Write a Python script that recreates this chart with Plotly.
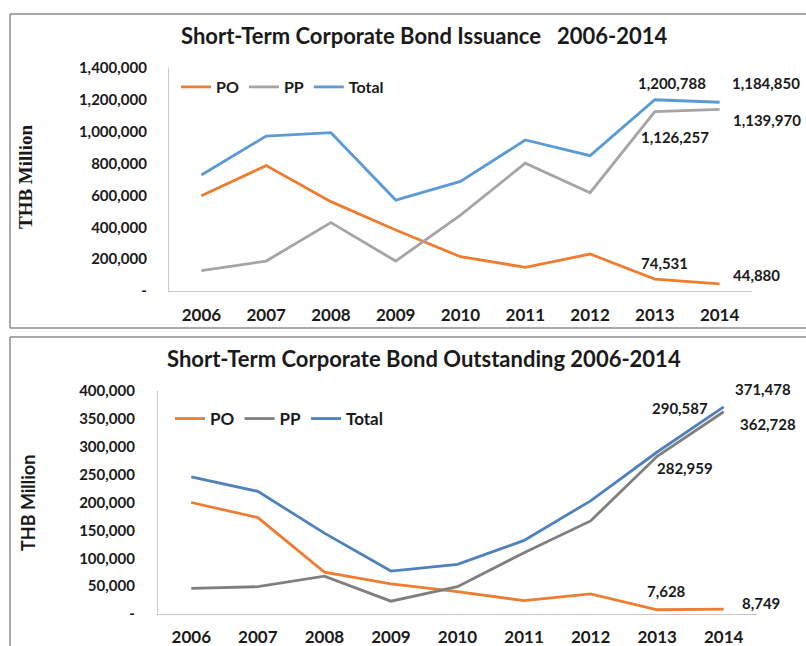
"""
Short-term corporate bond issuance / outstanding 2006-2014, two stacked line charts.
"""

import plotly.graph_objects as go

years = ["2006", "2007", "2008", "2009", "2010", "2011", "2012", "2013", "2014"]

# issuance, THB million
issue_po = [598000, 787000, 561000, 383000, 215000, 149000, 232000, 74531, 44880]
issue_pp = [128000, 188000, 429000, 188000, 477000, 802000, 617000, 1126257, 1139970]
issue_total = [728000, 973000, 994000, 571000, 688000, 948000, 850000, 1200788, 1184850]

# outstanding, THB million
out_po = [200000, 173000, 75000, 54000, 40000, 24000, 36000, 7628, 8749]
out_pp = [46000, 49000, 68000, 23000, 49000, 110000, 167000, 282959, 362728]
out_total = [246000, 220000, 145000, 77000, 89000, 132000, 203000, 290587, 371478]

issue_ticks = [0, 200000, 400000, 600000, 800000, 1000000, 1200000, 1400000]
issue_ticktext = ["-", "200,000", "400,000", "600,000", "800,000",
                  "1,000,000", "1,200,000", "1,400,000"]
out_ticks = [0, 50000, 100000, 150000, 200000, 250000, 300000, 350000, 400000]
out_ticktext = ["-", "50,000", "100,000", "150,000", "200,000",
                "250,000", "300,000", "350,000", "400,000"]

ORANGE = "#ED7D31"
SANS = "Lato"
INK = "#1a1a1a"
FRAME = "#8C8C8C"

W, H = 806, 646


def px(x):
    # page pixel (from left) -> paper x
    return x / W


def py(y):
    # page pixel (from top) -> paper y
    return 1 - y / H


fig = go.Figure()

top_series = [("PO", issue_po, ORANGE), ("PP", issue_pp, "#A5A5A5"),
              ("Total", issue_total, "#5B9BD5")]
for name, vals, col in top_series:
    fig.add_trace(go.Scatter(x=years, y=vals, name=name, mode="lines",
                             line=dict(color=col, width=2.8),
                             xaxis="x", yaxis="y", legend="legend"))

bottom_series = [("PO", out_po, ORANGE), ("PP", out_pp, "#7F7F7F"),
                 ("Total", out_total, "#4F81BD")]
for name, vals, col in bottom_series:
    fig.add_trace(go.Scatter(x=years, y=vals, name=name, mode="lines",
                             line=dict(color=col, width=2.8),
                             xaxis="x2", yaxis="y2", legend="legend2"))

xaxis_common = dict(type="category", showgrid=False, zeroline=False, showline=True,
                    linecolor="#C8C8C8", linewidth=1.3, ticks="", automargin=False,
                    range=[-0.5, 8.5],
                    tickfont=dict(family=SANS, size=17, color=INK, weight="bold"))
yaxis_common = dict(showgrid=False, zeroline=False, showline=True,
                    linecolor="#C8C8C8", linewidth=1.3, ticks="", automargin=False,
                    tickfont=dict(family=SANS, size=15, color=INK, weight="bold"))

fig.update_layout(
    width=W, height=H,
    margin=dict(l=0, r=0, t=0, b=0, autoexpand=False),
    paper_bgcolor="white", plot_bgcolor="white",
    showlegend=True,
    xaxis=dict(xaxis_common, domain=[px(169), px(752)], anchor="y",
               ticklabelstandoff=8),
    yaxis=dict(yaxis_common, domain=[py(291), py(68)], range=[0, 1400000],
               anchor="x", tickvals=issue_ticks, ticktext=issue_ticktext,
               ticklabelstandoff=18),
    xaxis2=dict(xaxis_common, domain=[px(158), px(757)], anchor="y2",
                ticklabelstandoff=7),
    yaxis2=dict(yaxis_common, domain=[py(614), py(391)], range=[0, 400000],
                anchor="x2", tickvals=out_ticks, ticktext=out_ticktext,
                ticklabelstandoff=19),
    legend=dict(orientation="h", x=px(176), y=py(70), xanchor="left", yanchor="top",
                font=dict(family=SANS, size=16, color=INK, weight="bold"),
                bgcolor="rgba(0,0,0,0)", itemwidth=30),
    legend2=dict(orientation="h", x=px(170), y=py(401), xanchor="left", yanchor="top",
                 font=dict(family=SANS, size=17, color=INK, weight="bold"),
                 bgcolor="rgba(0,0,0,0)", itemwidth=30),
)

# outer frames around each chart (right side runs off the page)
frame = dict(type="line", xref="paper", yref="paper",
             line=dict(color=FRAME, width=1.5))
fig.add_shape(frame, x0=px(10), x1=1, y0=py(14), y1=py(14))
fig.add_shape(frame, x0=px(10), x1=1, y0=py(328), y1=py(328))
fig.add_shape(frame, x0=px(10), x1=px(10), y0=py(14), y1=py(328))
fig.add_shape(frame, x0=px(10), x1=1, y0=py(337), y1=py(337))
fig.add_shape(frame, x0=px(10), x1=px(10), y0=py(337), y1=0)

# titles
title_font = dict(family=SANS, size=22, color=INK, weight="bold")
fig.add_annotation(text="Short-Term Corporate Bond Issuance\u00a0\u00a0 2006-2014",
                   xref="paper", yref="paper", x=px(424), y=py(36),
                   xanchor="center", yanchor="middle",
                   showarrow=False, font=title_font)
fig.add_annotation(text="Short-Term Corporate Bond Outstanding 2006-2014",
                   xref="paper", yref="paper", x=px(424), y=py(358),
                   xanchor="center", yanchor="middle",
                   showarrow=False, font=title_font)

# y axis titles
fig.add_annotation(text="THB Million", xref="paper", yref="paper",
                   x=px(25), y=py(177), textangle=-90, showarrow=False,
                   xanchor="center", yanchor="middle",
                   font=dict(family="Liberation Serif", size=19, color=INK, weight="bold"))
fig.add_annotation(text="THB Million", xref="paper", yref="paper",
                   x=px(28), y=py(503), textangle=-90, showarrow=False,
                   xanchor="center", yanchor="middle",
                   font=dict(family=SANS, size=18, color=INK, weight="bold"))

# value labels on the last two years (x given as category index)
label_font = dict(family=SANS, size=15, color=INK, weight="bold")
top_labels = [
    (issue_total, 7, 17, 17), (issue_total, 8, 46, 19),
    (issue_pp, 7, 20, -25), (issue_pp, 8, 47, -11),
    (issue_po, 7, 10, 16), (issue_po, 8, 37, 9),
]
for vals, i, dx, dy in top_labels:
    fig.add_annotation(x=i, y=vals[i], xref="x", yref="y",
                       text="{:,}".format(vals[i]), showarrow=False,
                       xshift=dx, yshift=dy, font=label_font)

bottom_labels = [
    (out_total, 7, 23, 44), (out_total, 8, 39, 18),
    (out_pp, 7, 28, -12), (out_pp, 8, 44, -12),
    (out_po, 7, 9, 19), (out_po, 8, 37, 6),
]
for vals, i, dx, dy in bottom_labels:
    fig.add_annotation(x=i, y=vals[i], xref="x2", yref="y2",
                       text="{:,}".format(vals[i]), showarrow=False,
                       xshift=dx, yshift=dy, font=label_font)

# drop the default body margin so the 806x646 figure fills the window exactly
fig.write_html("out.html", config={"displayModeBar": False},
               post_script="document.body.style.margin='0';"
                           "document.body.style.overflow='hidden';")
